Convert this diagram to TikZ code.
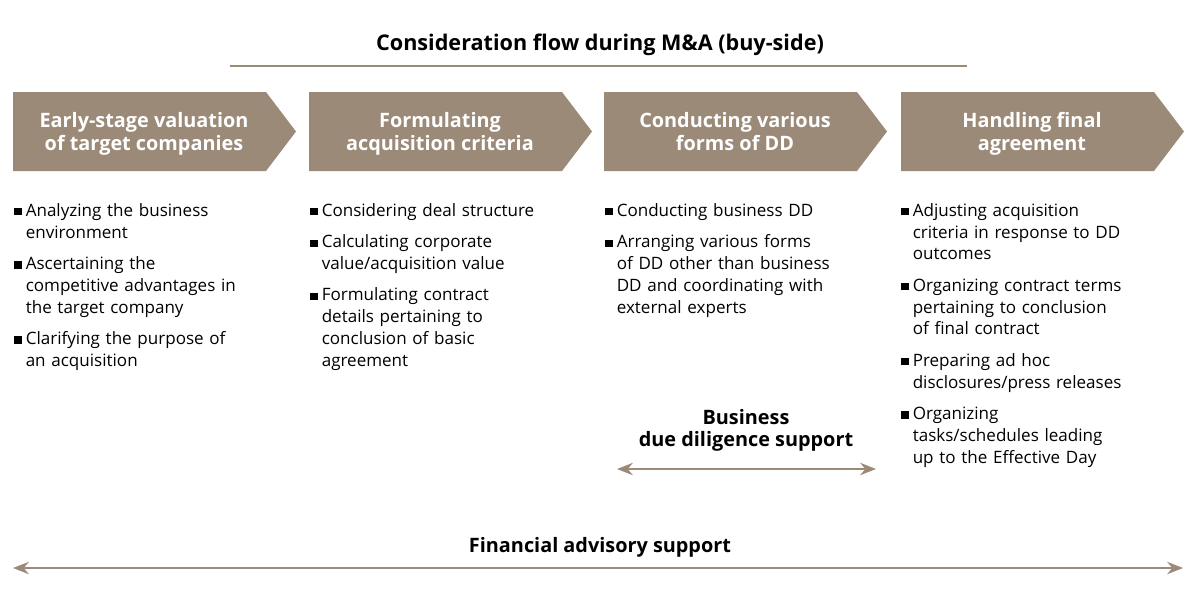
\documentclass[tikz,border=0pt]{standalone}
\usepackage{fontspec}
\setmainfont{Open Sans}
\usetikzlibrary{arrows.meta}
\definecolor{brn}{HTML}{9B8A78}
\begin{document}
\begin{tikzpicture}[x=0.02cm,y=-0.02cm,
 chev/.style={fill=brn,draw=none},
 head/.style={text=white,font=\fontsize{11.3pt}{13pt}\selectfont\bfseries,align=center,anchor=base},
 lst/.style={anchor=north west,align=left,text width=#1,font=\fontsize{9.7pt}{12.4pt}\selectfont,inner sep=0pt},
 dbl/.style={draw=brn,line width=1.2pt,{Stealth[length=9pt,width=7pt]}-{Stealth[length=9pt,width=7pt]}},
 lab/.style={font=\fontsize{11.3pt}{12.5pt}\selectfont\bfseries,align=center}]
\useasboundingbox (0,0) rectangle (1200,600);
\node[lab,font=\fontsize{12.3pt}{14pt}\selectfont\bfseries] (title) at (600,45) {Consideration flow during M\&A (buy-side)};
\coordinate (tl) at (230,66); \coordinate (tr) at (967,66);
\draw[brn,line width=1pt] (tl) -- (tr);
\foreach \x/\t [count=\i] in {13/{Early-stage valuation\\of target companies},309/{Formulating\\acquisition criteria},604/{Conducting various\\forms of DD},901/{Handling final\\agreement}}{
 \fill[chev] (\x,92) -- (\x+253,92) -- (\x+283,131.5) -- (\x+253,171) -- (\x,171) -- cycle;
 \node[head] (h\i) at (\x+131,150) {\t};
}
\newcommand{\bl}{\makebox[6.5pt][l]{\rule[0.5pt]{4.2pt}{4.2pt}}}
\newcommand{\bi}[1]{\hangindent=6.5pt\hangafter=1\bl#1\par\vspace{5.5pt}}
\node[lst=170pt] (l1) at (14,203) {\bi{Analyzing the business\newline environment}\bi{Ascertaining the\newline competitive advantages in\newline the target company}\bi{Clarifying the purpose of\newline an acquisition}};
\node[lst=170pt] (l2) at (310,203) {\bi{Considering deal structure}\bi{Calculating corporate\newline value/acquisition value}\bi{Formulating contract\newline details pertaining to\newline conclusion of basic\newline agreement}};
\node[lst=170pt] (l3) at (605,203) {\bi{Conducting business DD}\bi{Arranging various forms\newline of DD other than business\newline DD and coordinating with\newline external experts}};
\node[lst=170pt] (l4) at (901,203) {\bi{Adjusting acquisition\newline criteria in response to DD\newline outcomes}\bi{Organizing contract terms\newline pertaining to conclusion\newline of final contract}\bi{Preparing ad hoc\newline disclosures/press releases}\bi{Organizing\newline tasks/schedules leading\newline up to the Effective Day}};
\node[lab] (bdd) at (746,430) {Business\\due diligence support};
\coordinate (b1) at (617,469); \coordinate (b2) at (876,469);
\draw[dbl] (b1) -- (b2);
\node[lab] (fas) at (600,547) {Financial advisory support};
\coordinate (f1) at (13,568); \coordinate (f2) at (1183,568);
\draw[dbl] (f1) -- (f2);
\end{tikzpicture}
\end{document}
